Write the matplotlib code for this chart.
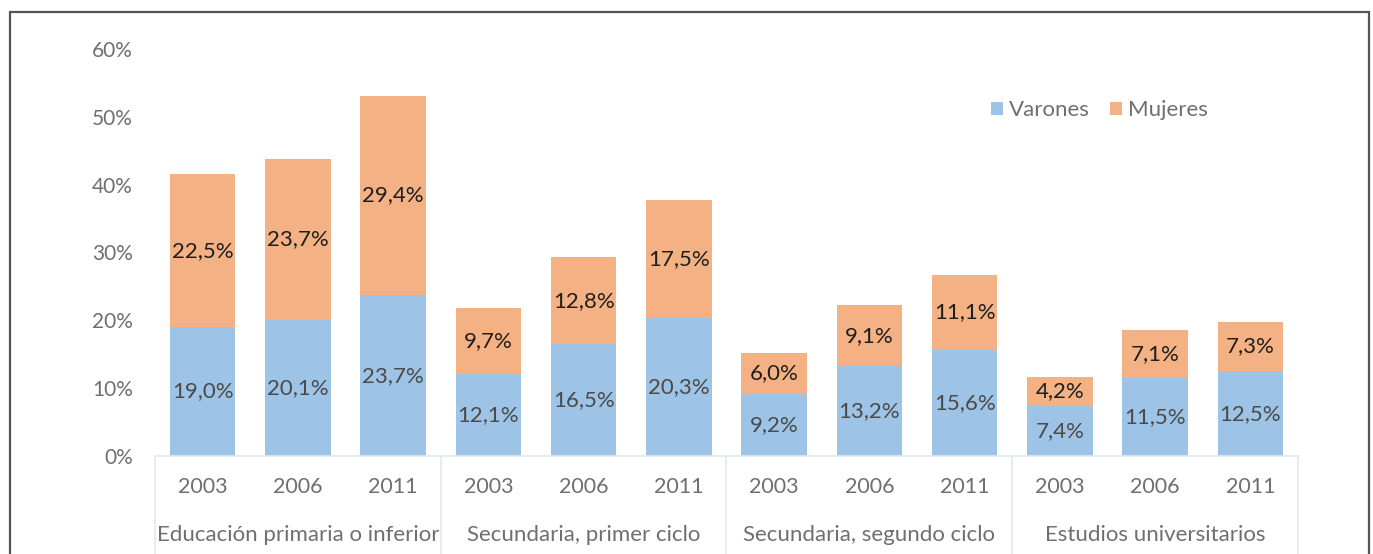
import numpy as np
import matplotlib.pyplot as plt
from matplotlib.patches import Rectangle
from matplotlib.lines import Line2D

plt.rcParams['font.family'] = ['Lato', 'DejaVu Sans']

groups = ["Educación primaria o inferior", "Secundaria, primer ciclo",
          "Secundaria, segundo ciclo", "Estudios universitarios"]
years = ["2003", "2006", "2011"]
varones = [19.0, 20.1, 23.7, 12.1, 16.5, 20.3, 9.2, 13.2, 15.6, 7.4, 11.5, 12.5]
mujeres = [22.5, 23.7, 29.4, 9.7, 12.8, 17.5, 6.0, 9.1, 11.1, 4.2, 7.1, 7.3]

blue = "#9dc3e6"
orange = "#f4b183"
grey = "#6f6f6f"
sep = "#ddeaf5"

fig = plt.figure(figsize=(13.73, 5.54), dpi=100)
ax = fig.add_axes([155/1373, 98/554, (1298-155)/1373, (456-49)/554])

x = np.arange(len(varones))
v = np.array(varones)
m = np.array(mujeres)
ax.bar(x, v, width=0.69, color=blue, label="Varones", zorder=2)
ax.bar(x, m, width=0.69, bottom=v, color=orange, label="Mujeres", zorder=2)

def fmt(val):
    return ("%.1f%%" % val).replace(".", ",")

for i in range(len(x)):
    ax.text(x[i], v[i] / 2, fmt(v[i]), ha="center", va="center",
            fontsize=16, color="#4a4a4a")
    ax.text(x[i], v[i] + m[i] / 2, fmt(m[i]), ha="center", va="center",
            fontsize=16, color="#1e1e1e")

ax.set_xlim(-0.5, len(x) - 0.5)
ax.set_ylim(0, 60)
ax.set_yticks(np.arange(0, 61, 10))
ax.set_yticklabels(["%d%%" % t for t in range(0, 61, 10)])
ax.tick_params(axis="y", length=0, pad=16, labelsize=15, labelcolor=grey)
ax.set_xticks([])
for s in ["top", "right", "left"]:
    ax.spines[s].set_visible(False)
ax.spines["bottom"].set_color(sep)
ax.spines["bottom"].set_linewidth(1.2)

# year labels and group labels under the axis
for i in range(len(x)):
    ax.text(x[i], -4.6, years[i % 3], ha="center", va="center",
            fontsize=15.5, color=grey, clip_on=False)
for g, name in enumerate(groups):
    ax.text(3 * g + 1, -11.6, name, ha="center", va="center",
            fontsize=16, color=grey, clip_on=False)
for b in range(5):
    ax.add_line(Line2D([3 * b - 0.5, 3 * b - 0.5], [0, -15], color=sep,
                       lw=1.2, clip_on=False))

leg = ax.legend(loc="upper left", bbox_to_anchor=(0.714, 0.923), ncol=2,
                frameon=False, fontsize=16, handlelength=0.55, handleheight=0.55,
                handletextpad=0.25, columnspacing=0.9)
for t in leg.get_texts():
    t.set_color(grey)

# outer frame
fig.patches.append(Rectangle((10/1373, -0.05), (1369-10)/1373, 1.05 - 12/554,
                             transform=fig.transFigure, fill=False,
                             edgecolor="#555555", lw=1.6))

fig.savefig("out.png", dpi=100)
